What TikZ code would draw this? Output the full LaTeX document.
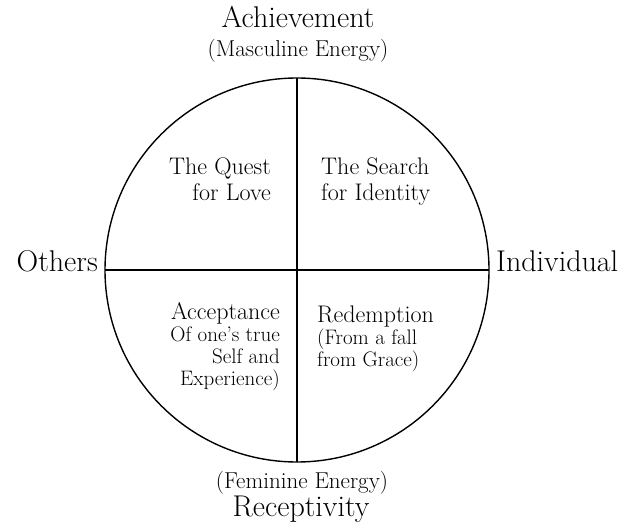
\documentclass[tikz,border=0pt]{standalone}
\usepackage{tikz}
\usetikzlibrary{positioning}
\tikzset{
  rim/.style={line width=1.4pt},
  mainlabel/.style={inner sep=0pt, font=\fontsize{30}{34}\selectfont},
  sublabel/.style={inner sep=0pt, font=\fontsize{23}{26}\selectfont},
  quadtext/.style={inner sep=0pt, font=\fontsize{24}{26}\selectfont},
  quadsmall/.style={inner sep=0pt, font=\fontsize{21}{22}\selectfont}
}
\begin{document}
\begin{tikzpicture}[x=1pt, y=-1pt]
\useasboundingbox (0,0) rectangle (626,526);
% circle and axes
\coordinate (centre) at (297,270);
\coordinate (top) at (297,78);
\coordinate (bottom) at (297,462);
\coordinate (west) at (105,270);
\coordinate (east) at (489,270);
\draw[rim] (centre) circle (192);
\draw[rim] (top)--(bottom);
\draw[rim] (west)--(east);
% axis labels
\node[mainlabel, anchor=base] (achv) at (298,28) {Achievement};
\node[sublabel, anchor=base] (masc) at (298,57) {(Masculine Energy)};
\node[mainlabel, anchor=base east] (others) at (98,272) {Others};
\node[mainlabel, anchor=base west] (indiv) at (496,272) {Individual};
\node[sublabel, anchor=base] (fem) at (302,488) {(Feminine Energy)};
\node[mainlabel, anchor=base] (recep) at (301,516) {Receptivity};
% quadrants
\node[quadtext, align=right, anchor=north east] (quest) at (271,158) {The Quest\\for Love};
\node[quadtext, align=left, anchor=north west] (search) at (321,158) {The Search\\for Identity};
\node[quadsmall, align=right, anchor=north east] (accept) at (280,302)
  {{\fontsize{24}{22}\selectfont Acceptance}\\Of one's true\\Self and\\Experience)};
\node[quadsmall, align=left, anchor=north west] (redeem) at (317,306)
  {{\fontsize{24}{22}\selectfont Redemption}\\(From a fall\\from Grace)};
\end{tikzpicture}
\end{document}
